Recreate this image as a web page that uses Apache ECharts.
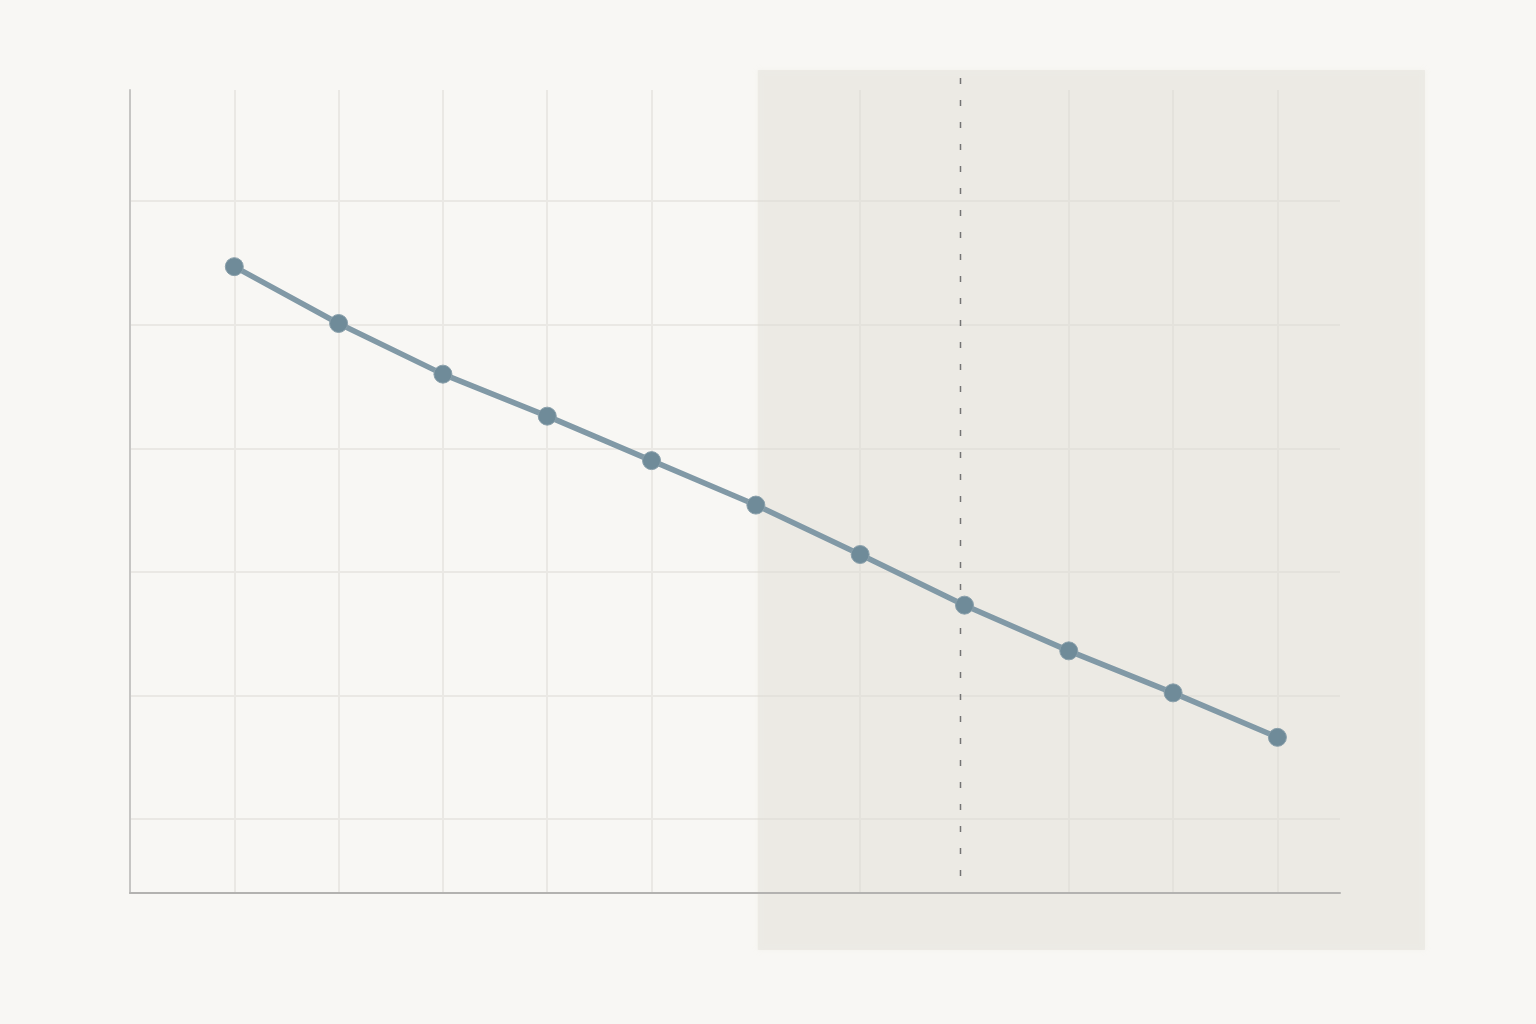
<!DOCTYPE html>
<html>
<head>
<meta charset="utf-8">
<style>
  html, body { margin: 0; padding: 0; background: #f8f7f4; }
  #main { width: 1536px; height: 1024px; }
</style>
</head>
<body>
<div id="main"></div>
<script src="https://cdn.jsdelivr.net/npm/echarts@6/dist/echarts.min.js"></script>
<script>
// data (no labels on the original)
var xIndex = [0, 1, 2, 3, 4, 5, 6, 7, 8, 9, 10];
var values = [54.7, 50.1, 46.0, 42.6, 39.0, 35.4, 31.4, 27.3, 23.6, 20.2, 16.6];
var xGrid = [0, 1, 2, 3, 4, 6, 8, 9, 10];
var yGrid = [10, 20, 30, 40, 50, 60];
var shadeFrom = 5;
var markerAt = 7;

var chart = echarts.init(document.getElementById('main'));

var gridLines = [];
xGrid.forEach(function (v) { gridLines.push({ xAxis: v }); });
yGrid.forEach(function (v) { gridLines.push({ yAxis: v }); });

chart.setOption({
  backgroundColor: '#f8f7f4',
  animation: false,
  grid: { left: 130, right: 196, top: 90, bottom: 131 },
  xAxis: {
    type: 'value',
    min: -1,
    max: 10.6,
    interval: 1,
    z: 5,
    axisLine: { onZero: false, lineStyle: { color: '#b3b2b0', width: 2 } },
    axisTick: { show: false },
    axisLabel: { show: false },
    splitLine: { show: false }
  },
  yAxis: {
    type: 'value',
    min: 4,
    max: 69,
    z: 5,
    axisLine: { show: true, onZero: false, lineStyle: { color: '#c6c5c3', width: 2 } },
    axisTick: { show: false },
    axisLabel: { show: false },
    splitLine: { show: false }
  },
  series: [
    {
      // background grid lines
      type: 'line',
      z: 0,
      silent: true,
      data: [],
      markLine: {
        z: 0,
        silent: true,
        symbol: 'none',
        animation: false,
        label: { show: false },
        lineStyle: { type: 'solid', color: '#eae8e4', width: 2 },
        emphasis: { disabled: true },
        data: gridLines
      }
    },
    {
      type: 'line',
      z: 4,
      data: xIndex.map(function (x, i) { return [x, values[i]]; }),
      symbol: 'circle',
      symbolSize: 18,
      lineStyle: { color: '#8199a6', width: 5.5 },
      itemStyle: { color: '#6f8b99', borderColor: '#8aa0ab', borderWidth: 1 }
    }
  ]
});

// shaded region and dashed reference line, placed from the axis scale
function decorate() {
  var xs = chart.convertToPixel({ gridIndex: 0 }, [shadeFrom, 0])[0];
  var xm = chart.convertToPixel({ gridIndex: 0 }, [markerAt, 0])[0];
  chart.setOption({
    graphic: [
      {
        type: 'rect',
        z: 1,
        silent: true,
        shape: { x: xs + 2, y: 70, width: 1425 - xs - 2, height: 880 },
        style: { fill: 'rgba(222,218,210,0.36)', shadowBlur: 6, shadowColor: 'rgba(222,218,210,0.4)' }
      },
      {
        type: 'line',
        z: 2,
        silent: true,
        shape: { x1: Math.round(xm) - 4 + 0.5, y1: 78, x2: Math.round(xm) - 4 + 0.5, y2: 884 },
        style: { stroke: '#747474', lineWidth: 1.5, lineDash: [6, 16] }
      }
    ]
  });
}
decorate();
</script>
</body>
</html>
